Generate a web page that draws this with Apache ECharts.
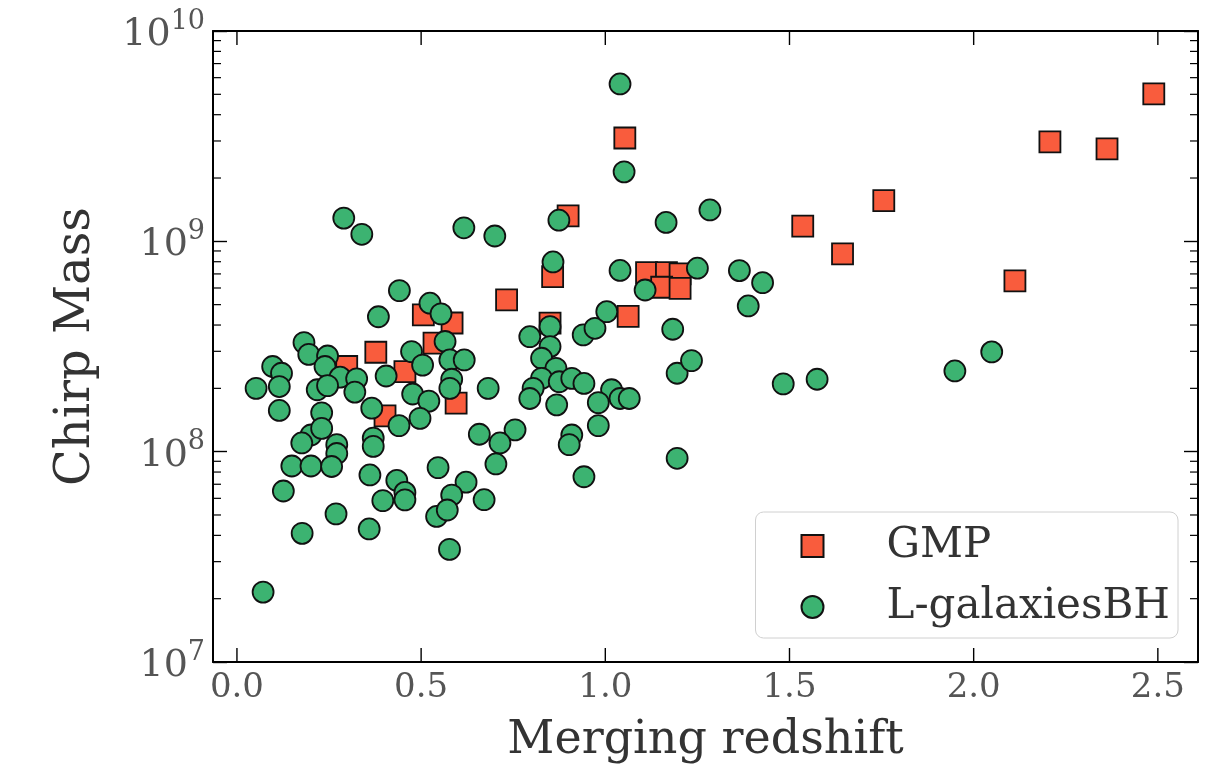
<!DOCTYPE html>
<html>
<head>
<meta charset="utf-8">
<title>Chirp Mass vs Merging redshift</title>
<script src="https://cdn.jsdelivr.net/npm/echarts@6/dist/echarts.min.js"></script>
<style>
  html, body { margin: 0; padding: 0; background: #fff; }
  #chart { width: 1209px; height: 770px; }
</style>
</head>
<body>
<div id="chart"></div>
<script>
// GMP mergers: redshift and chirp mass
const gmpZ = [0.506, 0.584, 0.535, 0.377, 0.298, 0.456, 0.402, 0.595, 0.857, 0.732, 1.062, 0.850, 1.112,
  1.166, 1.203, 1.153, 1.203, 0.899, 1.053, 1.536, 1.644, 1.756, 2.112, 2.207, 2.362, 2.489];
const gmpM = [4.47e8, 4.09e8, 3.28e8, 2.97e8, 2.54e8, 2.40e8, 1.48e8, 1.70e8, 6.80e8, 5.27e8, 4.40e8, 4.08e8, 7.10e8,
  7.10e8, 7.00e8, 6.05e8, 5.98e8, 1.32e9, 3.10e9, 1.18e9, 8.71e8, 1.56e9, 6.48e8, 2.97e9, 2.75e9, 5.02e9];

// L-galaxiesBH mergers: redshift and chirp mass
const lgZ = [0.441, 0.524, 0.554, 0.384, 0.182, 0.195, 0.246, 0.097, 0.121, 0.474, 0.504, 0.565, 0.578, 0.617,
  0.583, 0.578, 0.239, 0.280, 0.325, 0.405, 0.052, 0.115, 0.218, 0.246, 0.320, 0.477, 0.521, 0.366, 0.115,
  0.230, 0.440, 0.497, 0.201, 0.176, 0.230, 0.271, 0.271, 0.370, 0.370, 0.658, 0.149, 0.201, 0.257, 0.546,
  0.361, 0.434, 0.456, 0.396, 0.456, 0.126, 0.622, 0.583, 0.542, 0.571, 0.269, 0.359, 0.177, 0.577, 0.671,
  0.682, 0.795, 0.850, 0.850, 0.827, 0.866, 0.827, 0.804, 0.795, 0.875, 0.909, 0.942, 0.868, 0.940, 0.972,
  1.004, 1.017, 0.981, 1.040, 1.065, 0.981, 0.909, 0.902, 0.755, 0.714, 0.703, 0.942, 1.183, 1.195, 1.195,
  1.108, 1.040, 1.284, 1.165, 1.250, 1.364, 1.427, 1.388, 1.234, 1.483, 1.575, 0.071, 0.290, 0.339, 0.616,
  0.700, 0.874, 0.858, 1.040, 1.051, 1.949, 2.049];
const lgM = [5.83e8, 5.08e8, 4.52e8, 4.38e8, 3.30e8, 2.90e8, 2.85e8, 2.54e8, 2.36e8, 2.99e8, 2.58e8, 3.34e8, 2.73e8, 2.73e8,
  2.21e8, 2.00e8, 2.54e8, 2.26e8, 2.22e8, 2.29e8, 2.00e8, 2.04e8, 1.97e8, 2.06e8, 1.92e8, 1.88e8, 1.74e8, 1.61e8, 1.57e8,
  1.53e8, 1.33e8, 1.44e8, 1.20e8, 1.10e8, 1.29e8, 1.08e8, 9.8e7, 1.16e8, 1.06e8, 1.21e8, 8.55e7, 8.55e7, 8.5e7, 8.4e7,
  7.75e7, 7.3e7, 6.4e7, 5.85e7, 5.9e7, 6.5e7, 7.16e7, 6.22e7, 4.92e7, 5.28e7, 5.06e7, 4.29e7, 4.09e7, 3.43e7, 5.91e7,
  2.00e8, 3.52e8, 3.93e8, 3.16e8, 2.78e8, 2.49e8, 2.23e8, 2.00e8, 1.79e8, 2.15e8, 2.23e8, 2.11e8, 1.67e8, 3.59e8, 3.86e8,
  4.63e8, 1.97e8, 1.71e8, 1.79e8, 1.79e8, 1.33e8, 1.20e8, 1.08e8, 1.27e8, 1.10e8, 8.74e7, 7.6e7, 3.82e8, 2.36e8, 9.3e7,
  5.87e8, 7.27e8, 1.41e9, 1.23e9, 7.45e8, 7.26e8, 6.36e8, 4.93e8, 2.71e8, 2.10e8, 2.21e8, 2.15e7, 1.29e9, 1.08e9, 1.16e9,
  1.06e9, 1.26e9, 7.98e8, 5.6e9, 2.14e9, 2.42e8, 2.98e8];

// axis ranges and tick positions
const X_MIN = -0.065, X_MAX = 2.609;
const Y_MIN = 1e7, Y_MAX = 1e10;
const xTickValues = [0.0, 0.5, 1.0, 1.5, 2.0, 2.5];
const xTickLabels = ['0.0', '0.5', '1.0', '1.5', '2.0', '2.5'];
const minorMantissa = [2, 3, 4, 5, 6, 7, 8, 9];
const minorDecades = [1e7, 1e8, 1e9];
const minorTicks = [];
minorDecades.forEach(d => minorMantissa.forEach(m => minorTicks.push([X_MIN, m * d])));

const SERIF = '"DejaVu Serif", "Liberation Serif", serif';
const pairs = (xs, ys) => xs.map((x, i) => [x, ys[i]]);

const chart = echarts.init(document.getElementById('chart'), null, { renderer: 'canvas' });

const tickStyle = { lineStyle: { color: '#000', width: 1.4 }, inside: true, length: 14 };
const lineStyle = { show: true, onZero: false, lineStyle: { color: '#000', width: 2 } };

chart.setOption({
  animation: false,
  backgroundColor: '#fff',
  grid: { left: 213, right: 11, top: 31, bottom: 108, containLabel: false },
  legend: {
    data: ['GMP', 'L-galaxiesBH'],
    orient: 'vertical',
    right: 31,
    bottom: 132,
    padding: [13, 8, 10, 45],
    itemWidth: 22,
    itemHeight: 22,
    itemGap: 19,
    backgroundColor: '#fff',
    borderColor: '#d0d0d0',
    borderWidth: 1,
    borderRadius: 8,
    textStyle: { fontFamily: SERIF, fontSize: 42, color: '#333', lineHeight: 42, padding: [0, 0, 0, 58] }
  },
  xAxis: [{
    type: 'value', position: 'bottom', min: X_MIN, max: X_MAX,
    axisLine: lineStyle, axisTick: { show: false }, splitLine: { show: false },
    axisLabel: { show: false },
    name: 'Merging redshift', nameLocation: 'middle', nameGap: 56,
    nameTextStyle: { fontFamily: SERIF, fontSize: 46, color: '#333' }
  }, {
    type: 'value', position: 'top', min: X_MIN, max: X_MAX,
    axisLine: lineStyle, axisTick: { show: false }, axisLabel: { show: false }, splitLine: { show: false }
  }],
  yAxis: [{
    type: 'log', logBase: 10, position: 'left', min: Y_MIN, max: Y_MAX,
    axisLine: lineStyle, axisTick: tickStyle, splitLine: { show: false },
    axisLabel: {
      margin: 8, color: '#555',
      formatter: v => '{b|10}{s|' + Math.round(Math.log10(v)) + '}',
      rich: {
        b: { fontFamily: SERIF, fontSize: 38, color: '#555', lineHeight: 46, verticalAlign: 'bottom' },
        s: { fontFamily: SERIF, fontSize: 27, color: '#555', lineHeight: 46, verticalAlign: 'top' }
      }
    },
    name: 'Chirp Mass', nameLocation: 'middle', nameGap: 112, nameRotate: 90,
    nameTextStyle: { fontFamily: SERIF, fontSize: 48, color: '#333' }
  }, {
    type: 'log', logBase: 10, position: 'right', min: Y_MIN, max: Y_MAX,
    axisLine: lineStyle, axisTick: tickStyle, axisLabel: { show: false }, splitLine: { show: false }
  }],
  series: [{
    name: 'GMP', type: 'scatter', xAxisIndex: 0, yAxisIndex: 0,
    symbol: 'rect', symbolSize: 21,
    itemStyle: { color: '#f95c3d', borderColor: '#111', borderWidth: 1.8, opacity: 1 },
    data: pairs(gmpZ, gmpM), z: 3
  }, {
    name: 'L-galaxiesBH', type: 'scatter', xAxisIndex: 0, yAxisIndex: 0,
    symbol: 'circle', symbolSize: 21,
    itemStyle: { color: '#3cb371', borderColor: '#111', borderWidth: 1.8, opacity: 1 },
    data: pairs(lgZ, lgM), z: 4
  }, {
    // major redshift ticks (bottom and top edges) with their labels
    name: 'xticks', type: 'custom', xAxisIndex: 0, yAxisIndex: 0,
    silent: true, clip: false, z: 5,
    data: xTickValues.map((v, i) => [v, Y_MIN, i]),
    renderItem: (params, api) => {
      const v = api.value(0);
      const pb = api.coord([v, Y_MIN]);
      const pt = api.coord([v, Y_MAX]);
      const st = { stroke: '#000', lineWidth: 1.4 };
      return {
        type: 'group',
        children: [
          { type: 'line', shape: { x1: pb[0], y1: pb[1], x2: pb[0], y2: pb[1] - 14 }, style: st },
          { type: 'line', shape: { x1: pt[0], y1: pt[1], x2: pt[0], y2: pt[1] + 14 }, style: st },
          {
            type: 'text', x: pb[0], y: pb[1] + 9,
            style: {
              text: xTickLabels[api.value(2)], align: 'center', verticalAlign: 'top',
              fontFamily: SERIF, fontSize: 34, fill: '#555'
            }
          }
        ]
      };
    }
  }, {
    // minor log ticks on the left and right frame edges
    name: 'minor', type: 'custom', xAxisIndex: 0, yAxisIndex: 0,
    silent: true, clip: false, z: 5,
    data: minorTicks,
    renderItem: (params, api) => {
      const pl = api.coord([X_MIN, api.value(1)]);
      const pr = api.coord([X_MAX, api.value(1)]);
      const st = { stroke: '#000', lineWidth: 1.2 };
      return {
        type: 'group',
        children: [
          { type: 'line', shape: { x1: pl[0], y1: pl[1], x2: pl[0] + 8, y2: pl[1] }, style: st },
          { type: 'line', shape: { x1: pr[0], y1: pr[1], x2: pr[0] - 8, y2: pr[1] }, style: st }
        ]
      };
    }
  }]
});
</script>
</body>
</html>
